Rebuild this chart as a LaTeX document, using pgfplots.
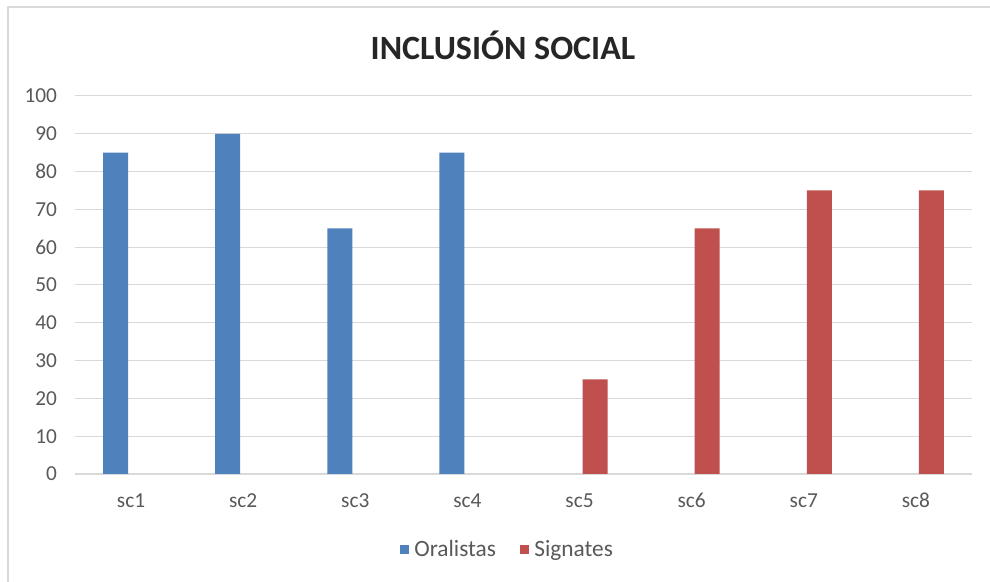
\documentclass[border=0pt]{standalone}
\usepackage{pgfplots}
\pgfplotsset{compat=1.18}
\usepackage{fontspec}
\setmainfont{Carlito}
\definecolor{oral}{HTML}{4F81BD}
\definecolor{sign}{HTML}{C0504D}
\definecolor{gridc}{HTML}{D9D9D9}
\definecolor{txt}{HTML}{595959}
\begin{document}
\begin{tikzpicture}[x=0.75pt,y=0.75pt]
\clip (0,0) rectangle (990,582);
\fill[white] (0,0) rectangle (990,582);
\draw[gridc, line width=0.9pt] (8,-20) rectangle (1010,575);
\node[font=\fontsize{25.5}{30}\selectfont\bfseries, text=black!85] at (503,537) {INCLUSIÓN SOCIAL};
\begin{axis}[
    at={(56.25pt,81pt)}, anchor=south west,
    scale only axis,
    width=672.75pt, height=283.5pt,
    xmin=0.5, xmax=8.5,
    ymin=0, ymax=100,
    ytick={0,10,...,100},
    xtick={1,...,8},
    xticklabels={sc1,sc2,sc3,sc4,sc5,sc6,sc7,sc8},
    ymajorgrids=true,
    grid style={gridc, line width=0.75pt},
    axis line style={draw=none},
    axis x line*=bottom,
    axis y line*=left,
    x axis line style={draw=gridc, line width=0.9pt},
    major tick length=0pt,
    tick style={draw=none},
    ticklabel style={font=\fontsize{16}{19}\selectfont, text=txt},
    /pgf/number format/assume math mode=true,
    yticklabel style={xshift=-10pt},
    xticklabel style={yshift=-15pt, text height=1.4ex},
    ybar, bar width=18.75pt,
    legend style={at={(0.4825,-0.2)}, anchor=center, draw=none,
      legend columns=2, font=\fontsize{17.5}{20}\selectfont, text=txt,
      /tikz/every odd column/.append style={column sep=2pt},
      /tikz/every even column/.append style={column sep=16pt}},
    legend image code/.code={\fill[#1] (0pt,-3.4pt) rectangle (6.8pt,3.4pt);},
]
\addplot[fill=oral, draw=none, bar shift=-11.6pt] coordinates {(1,85) (2,90) (3,65) (4,85)};
\addplot[fill=sign, draw=none, bar shift=11.6pt] coordinates {(5,25) (6,65) (7,75) (8,75)};
\legend{Oralistas, Signates}
\end{axis}
\end{tikzpicture}
\end{document}
